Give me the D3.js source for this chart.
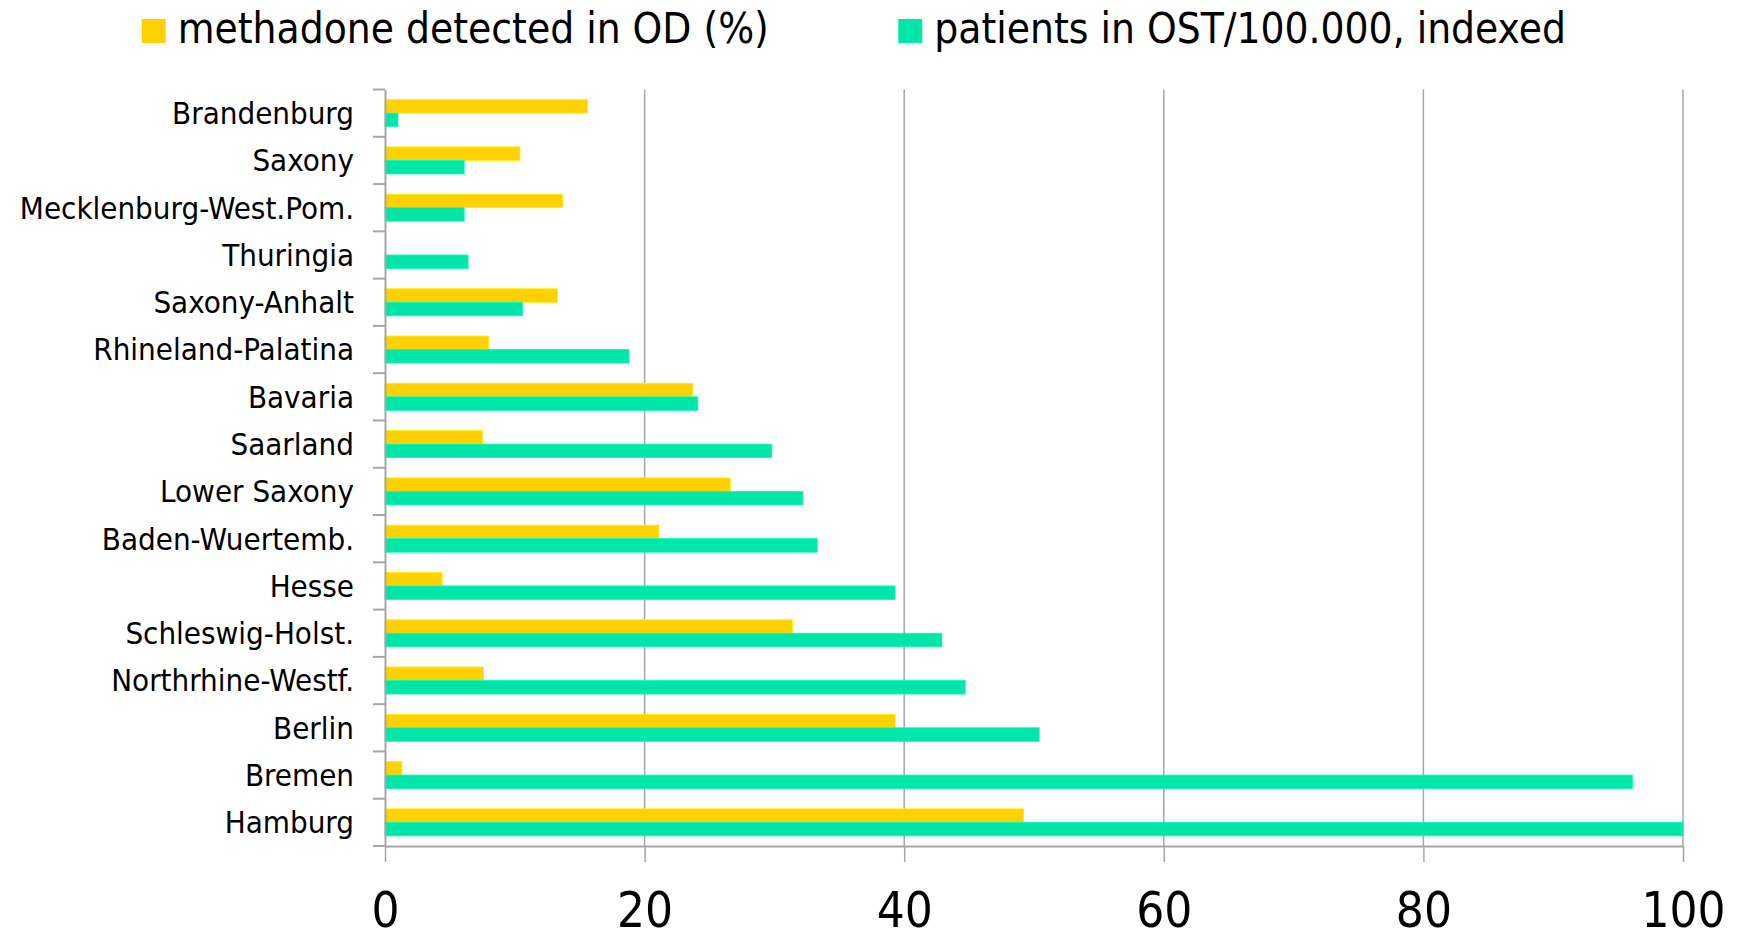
<!DOCTYPE html>
<html>
<head>
<meta charset="utf-8">
<script src="https://cdn.jsdelivr.net/npm/d3@7"></script>
<style>
  body { margin: 0; background: #fff; }
  svg { display: block; font-family: "DejaVu Sans Condensed", "DejaVu Sans", sans-serif; font-stretch: condensed; }
  .cat-label { font-size: 31px; fill: #000; }
  .x-label { font-size: 49px; fill: #000; }
  .legend-label { font-size: 42px; fill: #000; }
</style>
</head>
<body>
<svg id="chart"></svg>
<script>
// Data
const states = ["Brandenburg", "Saxony", "Mecklenburg-West.Pom.", "Thuringia", "Saxony-Anhalt",
    "Rhineland-Palatina", "Bavaria", "Saarland", "Lower Saxony", "Baden-Wuertemb.", "Hesse",
    "Schleswig-Holst.", "Northrhine-Westf.", "Berlin", "Bremen", "Hamburg"];
const methadone = [15.6, 10.4, 13.7, 0, 13.3, 8.0, 23.7, 7.5, 26.6, 21.1, 4.4, 31.4, 7.6, 39.3, 1.3, 49.2];
const ostPatients = [1.0, 6.1, 6.1, 6.4, 10.6, 18.8, 24.1, 29.8, 32.2, 33.3, 39.3, 42.9, 44.7, 50.4, 96.1, 100];
const seriesNames = ["methadone detected in OD (%)", "patients in OST/100.000, indexed"];
const seriesColors = ["#FFD100", "#00E5A8"];
const xTicks = [0, 20, 40, 60, 80, 100];

const width = 1744, height = 931;
const margin = { top: 89.5, right: 61, bottom: 85, left: 385 };
const innerWidth = width - margin.left - margin.right;
const innerHeight = height - margin.top - margin.bottom;
const gridColor = "#a6a6a6";

const svg = d3.select("#chart")
    .attr("width", width)
    .attr("height", height);

const innerChart = svg.append("g")
    .attr("transform", `translate(${margin.left},${margin.top})`);

// Scales
const xScale = d3.scaleLinear()
    .domain([0, 100])
    .range([0, innerWidth]);

const yScale = d3.scaleBand()
    .domain(states)
    .range([0, innerHeight]);

const subScale = d3.scaleBand()
    .domain([0, 1])
    .range([0, yScale.bandwidth()])
    .paddingOuter(0.75);

// Vertical gridlines
innerChart.append("g")
    .selectAll("line")
    .data(xTicks.filter(d => d > 0))
    .join("line")
    .attr("x1", d => xScale(d))
    .attr("x2", d => xScale(d))
    .attr("y1", 0)
    .attr("y2", innerHeight)
    .attr("stroke", gridColor)
    .attr("stroke-width", 1.5);

// Bars
const rows = states.map((s, i) => ({ state: s, values: [methadone[i], ostPatients[i]] }));

const groups = innerChart.selectAll("g.row")
    .data(rows)
    .join("g")
    .attr("class", "row")
    .attr("transform", d => `translate(0,${yScale(d.state)})`);

groups.selectAll("rect")
    .data(d => d.values.map((v, k) => ({ k, v })))
    .join("rect")
    .attr("x", xScale(0))
    .attr("y", d => subScale(d.k))
    .attr("width", d => xScale(d.v) - xScale(0))
    .attr("height", subScale.bandwidth())
    .attr("fill", d => seriesColors[d.k])
    .attr("stroke", d => d3.color(seriesColors[d.k]).brighter(0.4))
    .attr("stroke-width", d => d.v > 0 ? 0.8 : 0);

// Bottom axis
const bottomAxis = d3.axisBottom(xScale)
    .tickValues(xTicks)
    .tickSize(16)
    .tickSizeOuter(0)
    .tickPadding(30);

const xAxisG = innerChart.append("g")
    .attr("transform", `translate(0,${innerHeight})`)
    .call(bottomAxis);
xAxisG.attr("font-size", null).attr("font-family", null);
xAxisG.select(".domain").attr("stroke", gridColor).attr("stroke-width", 2);
xAxisG.selectAll(".tick line").attr("stroke", gridColor).attr("stroke-width", 1.5);
xAxisG.selectAll(".tick text").attr("class", "x-label");

// Left axis: labels centred on bands, ticks between categories
const leftAxis = d3.axisLeft(yScale)
    .tickSize(0)
    .tickPadding(31);

const yAxisG = innerChart.append("g").call(leftAxis);
yAxisG.attr("font-size", null).attr("font-family", null);
yAxisG.select(".domain").attr("stroke", gridColor).attr("stroke-width", 2);
yAxisG.selectAll(".tick text")
    .attr("class", "cat-label")
    .attr("dy", "0.35em");

const boundaries = states.map(s => yScale(s)).concat([innerHeight]);
innerChart.append("g")
    .selectAll("line")
    .data(boundaries)
    .join("line")
    .attr("x1", -12)
    .attr("x2", 0)
    .attr("y1", d => d)
    .attr("y2", d => d)
    .attr("stroke", gridColor)
    .attr("stroke-width", 2);

// Legend
const legendX = [141.7, 898.3];
const legend = svg.append("g")
    .selectAll("g")
    .data(seriesNames)
    .join("g")
    .attr("transform", (d, i) => `translate(${legendX[i]},19)`);

legend.append("rect")
    .attr("width", 24)
    .attr("height", 24)
    .attr("fill", (d, i) => seriesColors[i]);

legend.append("text")
    .attr("class", "legend-label")
    .attr("x", 36)
    .attr("y", 24)
    .text(d => d);
</script>
</body>
</html>
